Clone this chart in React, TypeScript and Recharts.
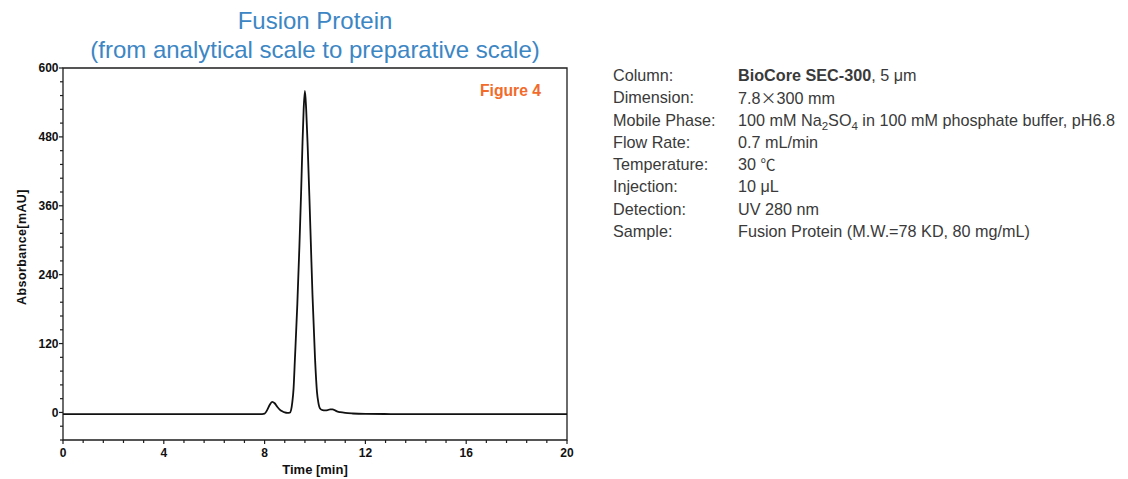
import React from 'react';
import { LineChart, Line, XAxis, YAxis, ReferenceArea, Label } from 'recharts';

// Retention time (min) and detector response (mAU) of the chromatogram trace
const timeMin = [
  0, 1, 2, 3, 4, 5, 6, 7, 7.6, 7.9, 8.0, 8.1, 8.2, 8.3, 8.4, 8.5, 8.6, 8.7, 8.8, 8.9,
  9.0, 9.05, 9.1, 9.15, 9.2, 9.3, 9.38, 9.45, 9.5, 9.55, 9.6, 9.65, 9.71, 9.78, 9.84,
  9.9, 10.0, 10.08, 10.13, 10.2, 10.3, 10.4, 10.5, 10.6, 10.7, 10.8, 10.9, 11.0, 11.2,
  11.5, 12, 13, 14, 16, 18, 20,
];
const absorbance = [
  -3, -3, -3, -3, -3, -3, -3, -3, -3, -2.8, -2, 4, 13, 18.5, 16, 10, 5, 2, 0, -0.8,
  -0.5, 4, 18, 42, 90, 190, 288, 385, 463, 528, 560, 528, 463, 372, 288,
  205, 95, 35, 18, 7, 4, 3.5, 4, 5.5, 5.5, 3.5, 1.5, 0.5, -0.8,
  -1.8, -2.5, -2.8, -3, -3, -3, -3,
];

// Axis ticks
const xMajorTicks = [0, 4, 8, 12, 16, 20];
const yMajorTicks = [0, 120, 240, 360, 480, 600];
const yMin = -48;
const minorPerMajor = 5;

const chartTitle = ['Fusion Protein', '(from analytical scale to preparative scale)'];
const figureTag = 'Figure 4';
const xTitle = 'Time [min]';
const yTitle = 'Absorbance[mAU]';

const conditionLabels = [
  'Column:', 'Dimension:', 'Mobile Phase:', 'Flow Rate:',
  'Temperature:', 'Injection:', 'Detection:', 'Sample:',
];

const data = timeMin.map((t, i) => ({ t, a: absorbance[i] }));

const round = (v: number) => Math.round(v * 1000) / 1000;

function withMinor(major: number[], lo: number, hi: number): number[] {
  const step = (major[1] - major[0]) / minorPerMajor;
  const out: number[] = [];
  for (let i = 0; ; i++) {
    const v = round(lo + i * step);
    if (v > hi + 1e-9) break;
    out.push(v);
  }
  return out;
}

const xTicks = withMinor(xMajorTicks, 0, 20);
const yTicks = withMinor(yMajorTicks, yMin, 600);

const FONT = '"Liberation Sans", Arial, Helvetica, sans-serif';
const AXIS = '#1e1e1e';

const XTick = (props: any) => {
  const { x, y, payload } = props;
  const v = payload.value;
  const major = xMajorTicks.includes(v);
  return (
    <g>
      <line x1={x} x2={x} y1={y} y2={y + (major ? 4 : 3)} stroke={AXIS} strokeWidth={1.2} />
      {major && (
        <text x={x} y={y + 16.5} textAnchor="middle" fontSize={12} fontWeight="bold" fill="#111" fontFamily={FONT}>
          {v}
        </text>
      )}
    </g>
  );
};

const YTick = (props: any) => {
  const { x, y, payload } = props;
  const v = payload.value;
  const major = yMajorTicks.includes(v);
  return (
    <g>
      <line x1={x - (major ? 4 : 3)} x2={x} y1={y} y2={y} stroke={AXIS} strokeWidth={1.2} />
      {major && (
        <text x={x - 4.5} y={y + 4.3} textAnchor="end" fontSize={12} fontWeight="bold" fill="#111" fontFamily={FONT}>
          {v}
        </text>
      )}
    </g>
  );
};

const Sub = ({ children }: { children: React.ReactNode }) => (
  <span style={{ fontSize: 11.5, position: 'relative', top: 4 }}>{children}</span>
);

const conditionValues: React.ReactNode[] = [
  <span><b>BioCore SEC-300</b>, 5 μm</span>,
  <span>7.8<span style={{ fontFamily: '"Noto Sans CJK SC"', fontSize: 16 }}>×</span>300 mm</span>,
  <span>100 mM Na<Sub>2</Sub>SO<Sub>4</Sub> in 100 mM phosphate buffer, pH6.8</span>,
  <span>0.7 mL/min</span>,
  <span>30 <span style={{ fontFamily: '"Noto Sans CJK SC"', fontSize: 15 }}>℃</span></span>,
  <span>10 μL</span>,
  <span>UV 280 nm</span>,
  <span>Fusion Protein (M.W.=78 KD, 80 mg/mL)</span>,
];

export default function App() {
  return (
    <div style={{ position: 'relative', width: 1112, height: 471, fontFamily: FONT }}>
      <div
        style={{
          position: 'absolute',
          left: 0,
          width: 614,
          top: -2,
          textAlign: 'center',
          fontSize: 24,
          lineHeight: '29px',
          color: '#3d86c4',
          whiteSpace: 'nowrap',
        }}
      >
        <div>{chartTitle[0]}</div>
        <div>{chartTitle[1]}</div>
      </div>
      <LineChart
        width={600}
        height={471}
        data={data}
        margin={{ top: 60, right: 41, bottom: 0, left: 0 }}
        style={{ position: 'absolute', left: 0, top: 0 }}
      >
        <XAxis
          dataKey="t"
          type="number"
          domain={[0, 20]}
          ticks={xTicks}
          interval={0}
          height={39}
          axisLine={false}
          tickLine={false}
          tickSize={0}
          tickMargin={0}
          tick={<XTick />}
        >
          <Label
            content={() => (
              <text x={307} y={466} textAnchor="middle" fontSize={13} fontWeight="bold" fill="#111" fontFamily={FONT}>
                {xTitle}
              </text>
            )}
          />
        </XAxis>
        <YAxis
          type="number"
          domain={[yMin, 600]}
          ticks={yTicks}
          interval={0}
          width={55}
          axisLine={false}
          tickLine={false}
          tickSize={0}
          tickMargin={0}
          allowDataOverflow
          tick={<YTick />}
        >
          <Label
            content={() => (
              <text
                x={14}
                y={239}
                transform="rotate(-90 14 239)"
                textAnchor="middle"
                dominantBaseline="central"
                fontSize={12.5}
                fontWeight="bold"
                letterSpacing={0.4}
                fill="#111"
                fontFamily={FONT}
              >
                {yTitle}
              </text>
            )}
          />
        </YAxis>
        <ReferenceArea x1={0} x2={20} y1={yMin} y2={600} fill="none" stroke={AXIS} strokeWidth={1.3} />
        <Line
          type="monotone"
          dataKey="a"
          stroke="#111"
          strokeWidth={1.8}
          dot={false}
          isAnimationActive={false}
        />
        <text x={533} y={88} textAnchor="end" fontSize={15.7} fontWeight="bold" fill="#f26b2a" fontFamily={FONT}>
          {figureTag}
        </text>
      </LineChart>
      <div
        style={{
          position: 'absolute',
          left: 605,
          top: 56,
          fontSize: 16.2,
          lineHeight: '22.3px',
          color: '#3a3a3a',
          whiteSpace: 'nowrap',
        }}
      >
        {conditionLabels.map((lab, i) => (
          <div key={lab} style={{ display: 'flex', height: 22.3 }}>
            <span style={{ width: 125, display: 'inline-block' }}>{lab}</span>
            <span>{conditionValues[i]}</span>
          </div>
        ))}
      </div>
    </div>
  );
}
